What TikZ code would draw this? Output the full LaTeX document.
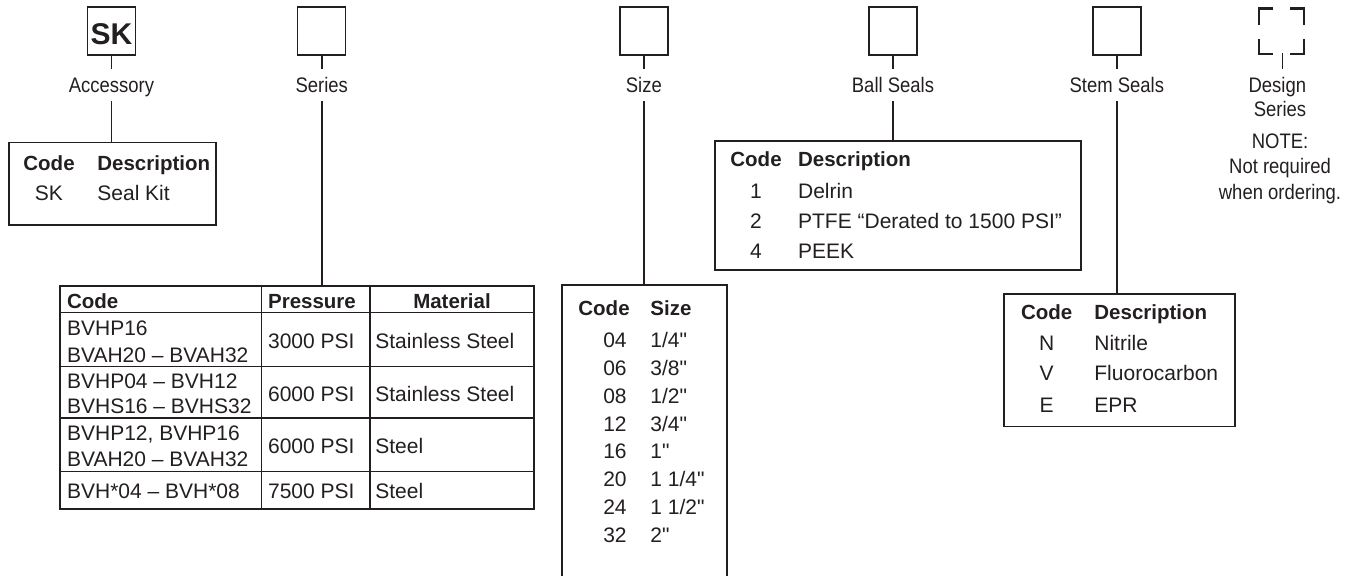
\documentclass[tikz,border=0pt]{standalone}
\usepackage{fontspec}
\setmainfont{Liberation Sans}
\newfontfamily\condfont[FakeStretch=0.88]{Liberation Sans}
\newfontfamily\inchfont{Liberation Sans}
\usetikzlibrary{positioning}
\definecolor{ink}{HTML}{231F20}
\tikzset{
  codebox/.style={draw=ink, line width=0.75pt, minimum width=24pt, minimum height=24pt, inner sep=0pt},
  lbl/.style={font=\condfont\fontsize{10.5}{12}\selectfont, text=ink, text height=7.5pt, text depth=0pt, inner xsep=0pt, inner ysep=4pt, anchor=base},
  note/.style={font=\condfont\fontsize{10.5}{12}\selectfont, text=ink, inner sep=0pt, anchor=base},
  txt/.style={font=\fontsize{10.5}{12}\selectfont, text=ink, inner sep=0pt, anchor=base west},
  inch/.style={txt, font=\inchfont\fontsize{10.5}{12}\selectfont},
  hdr/.style={txt, font=\bfseries\fontsize{10.25}{12}\selectfont},
  tab/.style={draw=ink, line width=0.75pt, inner sep=0pt, anchor=north west},
  tabline/.style={draw=ink, line width=0.75pt},
  wire/.style={draw=ink, line width=0.9pt},
  corner/.style={draw=ink, line width=1.4pt}
}
\begin{document}
\begin{tikzpicture}[x=0.5pt, y=-0.5pt]
\useasboundingbox (0,0) rectangle (1354,575);

\node[codebox, font=\bfseries\fontsize{15}{18}\selectfont, text=ink, text height=13.8pt, text depth=0pt] at (111.5,31) (skbox) {SK};
\node[codebox] at (321.7,31) (serbox) {};
\node[codebox] at (643.8,31) (sizebox) {};
\node[codebox] at (893,31) (ballbox) {};
\node[codebox] at (1116.8,31) (stembox) {};
\draw[corner] (1259,25) |- (1273,8.5);
\draw[corner] (1290,8.5) -| (1304,25);
\draw[corner] (1259,39) |- (1273,54);
\draw[corner] (1290,54) -| (1304,39);
\coordinate (dtick) at (1282.7,53);

\node[lbl] at (111.5,92.7) (acc) {Accessory};
\node[lbl] at (321.7,92.7) (ser) {Series};
\node[lbl] at (643.8,92.7) (size) {Size};
\node[lbl] at (893,92.7) (ball) {Ball Seals};
\node[lbl] at (1116.8,92.7) (stem) {Stem Seals};
\node[lbl] at (1282.7,92.7) (dsgn) {\makebox[0pt]{\hspace{-5.4pt}Design}};
\node[note] at (1280,116.7) (dsgnb) {Series};
\node[note] at (1280,148.3) (nte) {NOTE:};
\node[note] at (1280,173.3) (ntea) {Not required};
\node[note] at (1280,199.3) (nteb) {when ordering.};

\node[tab, minimum width=103.35pt, minimum height=41.15pt] at (8.3,141.7) (acctab) {};
\node[tab, minimum width=237pt, minimum height=111.5pt] at (59,285) (sertab) {};
\node[inner sep=0pt, anchor=north west, minimum width=82pt, minimum height=152.5pt] at (562,285) (sizetab) {};
\draw[tabline] (sizetab.south west) |- (sizetab.north east) -- (sizetab.south east);
\node[tab, minimum width=183pt, minimum height=64.5pt] at (714,140) (balltab) {};
\node[tab, minimum width=115.5pt, minimum height=66.35pt] at (1003,293) (stemtab) {};

\draw[wire] (skbox.south) -- (acc.north);
\draw[wire] (serbox.south) -- (ser.north);
\draw[wire] (sizebox.south) -- (size.north);
\draw[wire] (ballbox.south) -- (ball.north);
\draw[wire] (stembox.south) -- (stem.north);
\draw[ink, line width=0.5pt] (dtick) -- (dsgn.north);
\draw[wire] (acc.south) -- (acc.south |- acctab.north);
\draw[wire] (ser.south) -- (ser.south |- sertab.north);
\draw[wire] (size.south) -- (size.south |- sizetab.north);
\draw[wire] (ball.south) -- (ball.south |- balltab.north);
\draw[wire] (stem.south) -- (stem.south |- stemtab.north);

\node[hdr] at (23,170.4) (acch1) {Code};
\node[hdr] at (97,170.4) (acch2) {Description};
\node[txt, anchor=base] at (49,200.4) (acc1) {SK};
\node[txt] at (97,200.4) (acc2) {Seal Kit};

\draw[tabline] (261.7,285) -- (261.7,508);
\draw[tabline] (370,285) -- (370,508);
\draw[tabline] (59,312.7) -- (533,312.7);
\draw[tabline] (59,366.7) -- (533,366.7);
\draw[tabline] (59,418) -- (533,418);
\draw[tabline] (59,471.7) -- (533,471.7);
\node[hdr] at (66.7,308.5) (serh1) {Code};
\node[hdr] at (267.7,308.5) (serh2) {Pressure};
\node[hdr, anchor=base] at (452,308.5) (serh3) {Material};
\node[txt] at (66.7,335.2) (sera) {BVHP16};
\node[txt] at (66.7,362) (serb) {BVAH20 -- BVAH32};
\node[txt] at (267.7,348) (serc) {3000 PSI};
\node[txt] at (375,348) (serd) {Stainless Steel};
\node[txt] at (66.7,388.3) (sere) {BVHP04 -- BVH12};
\node[txt] at (66.7,413.3) (serf) {BVHS16 -- BVHS32};
\node[txt] at (267.7,401.3) (serg) {6000 PSI};
\node[txt] at (375,401.3) (serh) {Stainless Steel};
\node[txt] at (66.7,440) (seri) {BVHP12, BVHP16};
\node[txt] at (66.7,466.7) (serj) {BVAH20 -- BVAH32};
\node[txt] at (267.7,453.3) (serk) {6000 PSI};
\node[txt] at (375,453.3) (serl) {Steel};
\node[txt] at (66.7,498.5) (serm) {BVH*04 -- BVH*08};
\node[txt] at (267.7,498.5) (sern) {7500 PSI};
\node[txt] at (375,498.5) (sero) {Steel};

\node[hdr] at (578,315.7) (szh1) {Code};
\node[hdr] at (650,315.7) (szh2) {Size};
\node[txt, anchor=base east] at (627,347.4) (sza) {04};
\node[inch] at (650,347.4) (szb) {1/4"};
\node[txt, anchor=base east] at (627,375.3) (szc) {06};
\node[inch] at (650,375.3) (szd) {3/8"};
\node[txt, anchor=base east] at (627,403.1) (sze) {08};
\node[inch] at (650,403.1) (szf) {1/2"};
\node[txt, anchor=base east] at (627,431) (szg) {12};
\node[inch] at (650,431) (szh) {3/4"};
\node[txt, anchor=base east] at (627,458.8) (szi) {16};
\node[inch] at (650,458.8) (szj) {1"};
\node[txt, anchor=base east] at (627,486.7) (szk) {20};
\node[inch] at (650,486.7) (szl) {1 1/4"};
\node[txt, anchor=base east] at (627,514.5) (szm) {24};
\node[inch] at (650,514.5) (szn) {1 1/2"};
\node[txt, anchor=base east] at (627,542.4) (szo) {32};
\node[inch] at (650,542.4) (szp) {2"};

\node[hdr] at (730,166.8) (blh1) {Code};
\node[hdr] at (797.7,166.8) (blh2) {Description};
\node[txt, anchor=base] at (756,198.6) (bla) {1};
\node[txt] at (797.7,198.6) (blb) {Delrin};
\node[txt, anchor=base] at (756,228) (blc) {2};
\node[txt] at (797.7,228) (bld) {PTFE “Derated to 1500 PSI”};
\node[txt, anchor=base] at (756,258.2) (ble) {4};
\node[txt] at (797.7,258.2) (blf) {PEEK};

\node[hdr] at (1020.7,319) (smh1) {Code};
\node[hdr] at (1094,319) (smh2) {Description};
\node[txt, anchor=base] at (1046.7,350) (sma) {N};
\node[txt] at (1094,350) (smb) {Nitrile};
\node[txt, anchor=base] at (1046.7,380.8) (smc) {V};
\node[txt] at (1094,380.8) (smd) {Fluorocarbon};
\node[txt, anchor=base] at (1046.7,412.3) (sme) {E};
\node[txt] at (1094,412.3) (smf) {EPR};
\end{tikzpicture}
\end{document}
